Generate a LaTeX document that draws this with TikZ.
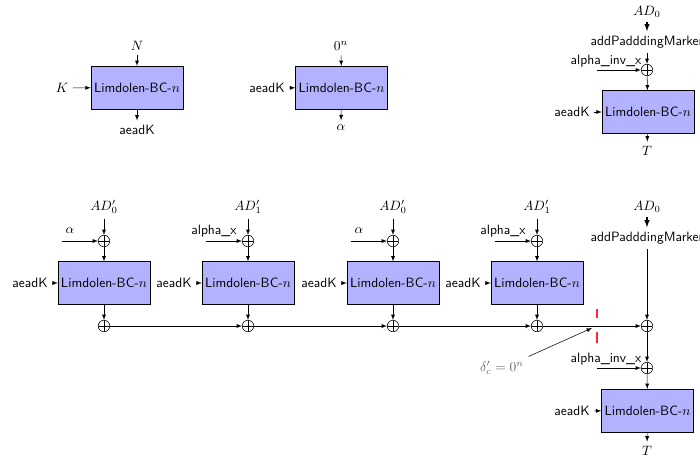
\documentclass[tikz,border=0pt]{standalone}
\usepackage{amsmath,amssymb}
\usepackage{tikz}
\usetikzlibrary{arrows}
\definecolor{myboxblue}{rgb}{0.7,0.7,1}
\definecolor{mycutred}{rgb}{1,0.15,0.2}
\definecolor{mygray}{rgb}{0.4,0.4,0.4}

\begin{document}
\begin{tikzpicture}[x=0.74pt,y=-0.74pt,>=latex,
  bc/.style={draw,fill=myboxblue,minimum width=68pt,minimum height=31.5pt,inner sep=1pt,font=\sffamily},
  lbl/.style={font=\sffamily},
  xor/.style={circle,draw,inner sep=0pt,minimum size=8.5pt,
    path picture={\draw (path picture bounding box.north) -- (path picture bounding box.south)
      (path picture bounding box.west) -- (path picture bounding box.east);}}]
  \useasboundingbox (0,0) rectangle (700,461);

  % key derivation
  \node[bc] (kd) at (137,87.5) {Limdolen-BC-$n$};
  \node (nonce) at (137,46) {$N$};
  \node (key) at (62,88) {$K$};
  \node[lbl] (kdout) at (137,130) {aeadK};
  \draw[->] (nonce) -- (kd);
  \draw[->] (key) -- (kd);
  \draw[->] (kd) -- (kdout);

  % alpha
  \node[bc] (al) at (341.5,87.5) {Limdolen-BC-$n$};
  \node (zero) at (341,46) {$0^n$};
  \node[lbl] (kal) at (267,88) {aeadK};
  \node (alout) at (341,128) {$\alpha$};
  \draw[->] (zero) -- (al);
  \draw[->] (kal) -- (al);
  \draw[->] (al) -- (alout);

  % single block tag
  \node[bc] (tg) at (648,112) {Limdolen-BC-$n$};
  \node (adt) at (647,12) {$AD_0$};
  \node[lbl] (padt) at (647,42) {addPadddingMarker};
  \node[xor] (xt) at (647,70) {};
  \coordinate (ait) at (597,70);
  \node[lbl] (ainvt) at (606,61) {alpha\_inv\_x};
  \node[lbl] (kt) at (572,112) {aeadK};
  \node (tt) at (647,151) {$T$};
  \draw[->,line width=0.8pt] (adt) -- (padt);
  \draw[->] (padt) -- (xt);
  \draw[->] (ait) -- (xt);
  \draw[->] (xt) -- (tg);
  \draw[->] (kt) -- (tg);
  \draw[->] (tg) -- (tt);

  % multi block tag
  \foreach \i/\x/\ad/\al in {1/104/{AD'_0}/{$\alpha$},2/248/{AD'_1}/{alpha\_x},
                             3/393/{AD'_0}/{$\alpha$},4/537/{AD'_1}/{alpha\_x}} {
    \node[bc] (b\i) at (\x,283) {Limdolen-BC-$n$};
    \node (ad\i) at (\x,207) {$\ad$};
    \node[xor] (u\i) at (\x,241) {};
    \node[xor] (l\i) at (\x,326) {};
    \coordinate (s\i) at (\x-42,241);
    \node[lbl] (a\i) at (\x-34,231) {\al};
    \node[lbl] (k\i) at (\x-74,283) {aeadK};
    \draw[->] (ad\i) -- (u\i);
    \draw[->] (s\i) -- (u\i);
    \draw[->] (u\i) -- (b\i);
    \draw[->] (k\i) -- (b\i);
    \draw[->] (b\i) -- (l\i);
  }
  \node (ad0) at (647,207) {$AD_0$};
  \node[lbl] (pad) at (647,238) {addPadddingMarker};
  \node[xor] (lf) at (647,326) {};
  \node[xor] (xf) at (647,368) {};
  \coordinate (ai) at (597,368);
  \node[lbl] (ainv) at (606,359) {alpha\_inv\_x};
  \node[bc] (tgb) at (647.5,410.5) {Limdolen-BC-$n$};
  \node[lbl] (kf) at (572,411) {aeadK};
  \node (tf) at (647,451) {$T$};
  \foreach \a/\b in {1/2,2/3,3/4,4/f}
    \draw[->] (l\a) -- (l\b);
  \draw[->,line width=0.8pt] (ad0) -- (pad);
  \draw[->] (pad) -- (lf);
  \draw[->] (lf) -- (xf);
  \draw[->] (ai) -- (xf);
  \draw[->] (xf) -- (tgb);
  \draw[->] (kf) -- (tgb);
  \draw[->] (tgb) -- (tf);

  % cut
  \draw[mycutred,line width=1pt] (597,309) -- (597,318);
  \draw[mycutred,line width=1pt] (597,332) -- (597,343);
  \node[text=mygray] (delta) at (502,368) {$\delta'_c = 0^n$};
  \coordinate (cut) at (592,328);
  \draw[->] (delta.north east) -- (cut);
\end{tikzpicture}
\end{document}
